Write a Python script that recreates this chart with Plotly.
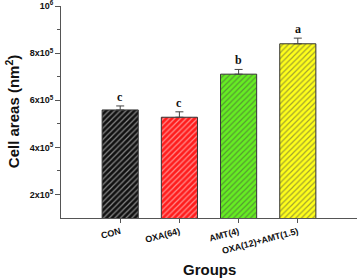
import plotly.graph_objects as go

groups = ["CON", "OXA(64)", "AMT(4)", "OXA(12)+AMT(1.5)"]
cell_areas = [5.59e5, 5.28e5, 7.11e5, 8.40e5]
errors = [1.7e4, 2.3e4, 2.0e4, 2.4e4]
letters = ["c", "c", "b", "a"]
bar_colors = ["#111111", "#ff1c1c", "#66ee22", "#ffff1a"]
pattern_colors = ["#2a2a2a", "#7a1010", "#2f6a10", "#6a6a10"]
ytick_vals = [2e5, 4e5, 6e5, 8e5, 1e6]
ytick_text = ["2x10<sup>5</sup>", "4x10<sup>5</sup>", "6x10<sup>5</sup>", "8x10<sup>5</sup>", "10<sup>6</sup>"]

x = list(range(len(groups)))

fig = go.Figure()
fig.add_trace(go.Bar(
    x=x, y=cell_areas, width=0.61,
    marker=dict(
        color=bar_colors,
        line=dict(color="#333333", width=1),
        pattern=dict(shape="/", size=4, solidity=0.3, fgcolor=pattern_colors),
    ),
    error_y=dict(type="data", array=errors, arrayminus=[0] * len(errors), symmetric=False,
                 color="#444444", thickness=1, width=4),
))

for xi, v, e, t in zip(x, cell_areas, errors, letters):
    fig.add_annotation(x=xi, y=v + e, text="<b>" + t + "</b>", showarrow=False,
                       yanchor="bottom", yshift=0,
                       font=dict(family="Liberation Serif", size=12, color="#111111"))

fig.add_annotation(xref="paper", yref="paper", x=0.5, y=-0.245, yanchor="middle",
                   text="<b>Groups</b>", showarrow=False,
                   font=dict(family="Liberation Sans", size=15, color="#111111"))
fig.add_annotation(xref="paper", yref="paper", x=-0.165, y=0.5, xanchor="center",
                   text="<b>Cell areas (nm<sup>2</sup>)</b>", showarrow=False, textangle=-90,
                   font=dict(family="Liberation Sans", size=15, color="#111111"))

fig.update_layout(
    width=358, height=279,
    margin=dict(l=61, r=1, t=6, b=61, autoexpand=False),
    paper_bgcolor="white", plot_bgcolor="white",
    showlegend=False,
    font=dict(family="Liberation Sans", color="#111111"),
)
fig.update_xaxes(
    range=[-1, 4], tickvals=x, ticktext=["<b>" + g + "</b>" for g in groups],
    tickangle=-15, tickfont=dict(size=9), automargin=False,
    showline=True, linecolor="#555555", linewidth=1,
    ticks="outside", ticklen=4, tickcolor="#555555",
    showgrid=False, zeroline=False,
)
fig.update_yaxes(
    range=[1e5, 1.0005e6], tickvals=ytick_vals, ticktext=["<b>" + t + "</b>" for t in ytick_text],
    tickfont=dict(size=9), automargin=False, ticklabeloverflow="allow",
    showline=True, linecolor="#555555", linewidth=1,
    ticks="outside", ticklen=5, tickcolor="#555555",
    minor=dict(tickvals=[3e5, 5e5, 7e5, 9e5], ticks="outside", ticklen=3, tickcolor="#555555"),
    showgrid=False, zeroline=False,
)

fig.write_html("out.html", config={"displayModeBar": False},
               post_script="document.body.style.margin='0';document.body.style.overflow='hidden';")
